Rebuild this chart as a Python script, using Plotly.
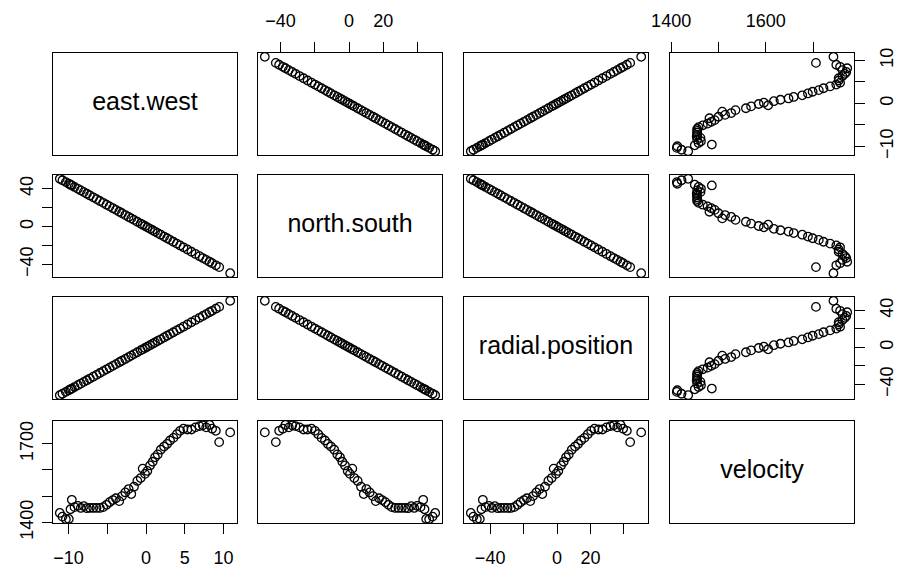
import plotly.graph_objects as go

# ---- data ----
east_west = [-11.12, -10.78, -10.34, -9.96, -9.74, -9.57, -9.22, -8.79, -8.41, -8.02,
             -7.63, -7.24, -6.81, -6.38, -5.95, -5.52, -5.09, -4.70, -4.27, -3.88,
             -3.45, -3.10, -2.67, -2.24, -1.90, -1.55, -1.12, -0.69, -0.43, -0.13,
             0.17, 0.52, 0.86, 1.16, 1.51, 1.90, 2.33, 2.72, 3.10, 3.53,
             3.97, 4.40, 4.83, 5.34, 5.86, 6.38, 6.90, 7.33, 7.76, 8.19,
             8.53, 9.01, 9.44, 10.86]
north_south = [50.31, 48.78, 46.79, 45.07, 44.08, 43.31, 41.72, 39.77, 38.05, 36.29,
               34.52, 32.76, 30.81, 28.87, 26.92, 24.98, 23.03, 21.27, 19.32, 17.56,
               15.61, 14.03, 12.08, 10.13, 8.60, 7.02, 5.07, 3.12, 1.94, 0.59,
               -0.77, -2.35, -3.89, -5.25, -6.83, -8.60, -10.54, -12.31, -14.03, -15.98,
               -17.97, -19.91, -21.85, -24.17, -26.52, -28.87, -31.22, -33.16, -35.12, -37.06,
               -38.60, -40.78, -42.71, -49.14]
radial_position = [-51.55, -49.98, -47.94, -46.18, -45.16, -44.37, -42.75, -40.75, -38.99, -37.18,
                   -35.37, -33.57, -31.57, -29.58, -27.58, -25.59, -23.60, -21.79, -19.80, -17.99,
                   -15.99, -14.37, -12.38, -10.38, -8.81, -7.19, -5.19, -3.20, -1.99, -0.60,
                   0.79, 2.41, 3.99, 5.38, 7.00, 8.81, 10.80, 12.61, 14.37, 16.37,
                   18.41, 20.40, 22.39, 24.76, 27.17, 29.58, 31.99, 33.98, 35.98, 37.97,
                   39.55, 41.78, 43.76, 50.35]
velocity = [1436, 1422, 1412, 1413, 1450, 1486, 1458, 1463, 1455, 1462,
            1454, 1455, 1455, 1455, 1455, 1458, 1467, 1477, 1485, 1492,
            1481, 1500, 1514, 1527, 1508, 1536, 1558, 1569, 1605, 1585,
            1596, 1617, 1631, 1648, 1659, 1677, 1689, 1699, 1712, 1722,
            1736, 1749, 1757, 1754, 1754, 1762, 1767, 1770, 1762, 1772,
            1757, 1749, 1706, 1743]

var_names = ["east.west", "north.south", "radial.position", "velocity"]
data = [east_west, north_south, radial_position, velocity]

tick_vals = [[-10, -5, 0, 5, 10],
             [-40, -20, 0, 20, 40],
             [-40, -20, 0, 20, 40],
             [1400, 1500, 1600, 1700]]
x_tick_text = [["\u221210", "", "0", "5", "10"],
               ["\u221240", "", "0", "20", ""],
               ["\u221240", "", "0", "20", ""],
               ["1400", "", "1600", ""]]
y_tick_text = [["\u221210", "", "0", "", "10"],
               ["\u221240", "", "0", "", "40"],
               ["\u221240", "", "0", "", "40"],
               ["1400", "", "", "1700"]]

# ---- layout geometry ----
W, H = 898, 567
col_left = [53, 258, 464, 670]
col_w = 184
row_top = [53, 175, 297, 421]
row_h = 102
FONT = "Liberation Sans, Arial, Helvetica, sans-serif"


def rng(v):
    lo, hi = min(v), max(v)
    d = hi - lo
    return [lo - 0.04 * d, hi + 0.04 * d]


fig = go.Figure()
layout = dict(width=W, height=H, margin=dict(l=0, r=0, t=0, b=0),
              paper_bgcolor="white", plot_bgcolor="white", showlegend=False,
              font=dict(family=FONT, color="black"))

for i in range(4):
    for j in range(4):
        k = i * 4 + j + 1
        sfx = "" if k == 1 else str(k)
        xname = "xaxis" + sfx
        yname = "yaxis" + sfx
        xd = [col_left[j] / W, (col_left[j] + col_w) / W]
        yd = [1 - (row_top[i] + row_h) / H, 1 - row_top[i] / H]
        xa = dict(domain=xd, anchor="y" + sfx, showline=True, mirror=True,
                  linecolor="black", linewidth=1, showgrid=False, zeroline=False,
                  fixedrange=True, automargin=False)
        ya = dict(domain=yd, anchor="x" + sfx, showline=True, mirror=True,
                  linecolor="black", linewidth=1, showgrid=False, zeroline=False,
                  fixedrange=True, automargin=False)
        if i == j:
            xa.update(range=[0, 1], showticklabels=False, ticks="")
            ya.update(range=[0, 1], showticklabels=False, ticks="")
            fig.add_trace(go.Scatter(x=[0.5], y=[0.5], mode="text",
                                     text=[var_names[i]],
                                     textposition="middle center",
                                     textfont=dict(size=25, family=FONT, color="black"),
                                     xaxis="x" + sfx, yaxis="y" + sfx,
                                     hoverinfo="skip"))
        else:
            xa.update(range=rng(data[j]))
            ya.update(range=rng(data[i]))
            fig.add_trace(go.Scatter(x=data[j], y=data[i], mode="markers",
                                     xaxis="x" + sfx, yaxis="y" + sfx,
                                     marker=dict(symbol="circle-open", size=8.5,
                                                 color="black",
                                                 line=dict(width=1.3, color="black")),
                                     hoverinfo="skip"))
        # x ticks
        if (i == 3 and j % 2 == 0) or (i == 0 and j % 2 == 1):
            xa.update(side="bottom" if i == 3 else "top", ticks="outside",
                      ticklen=10, tickwidth=1, tickcolor="black",
                      tickvals=tick_vals[j], ticktext=x_tick_text[j],
                      showticklabels=True,
                      ticklabelstandoff=8,
                      tickfont=dict(size=18, family=FONT, color="black"))
        else:
            xa.update(ticks="", showticklabels=False)
        # y ticks
        if (j == 0 and i % 2 == 1) or (j == 3 and i % 2 == 0):
            ya.update(side="left" if j == 0 else "right", ticks="outside",
                      ticklen=10, tickwidth=1, tickcolor="black",
                      tickvals=tick_vals[i], ticktext=y_tick_text[i],
                      showticklabels=True, tickangle=-90,
                      ticklabelstandoff=2 if j == 0 else 6,
                      tickfont=dict(size=18, family=FONT, color="black"))
        else:
            ya.update(ticks="", showticklabels=False)
        layout[xname] = xa
        layout[yname] = ya

fig.update_layout(**layout)
fig.write_html("out.html")
